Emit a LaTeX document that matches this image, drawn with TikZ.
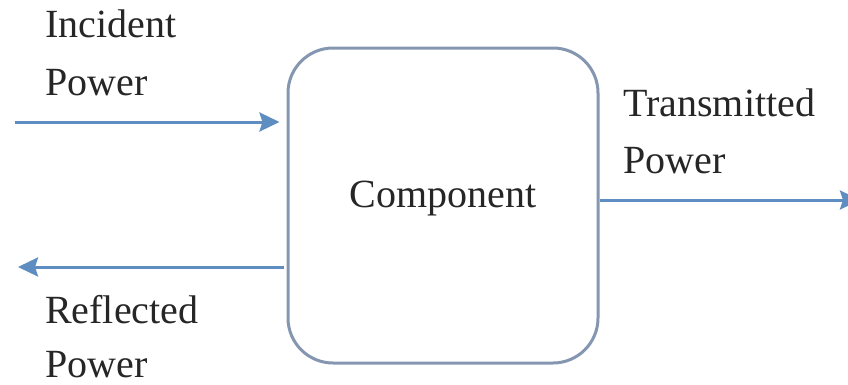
\documentclass[tikz,border=0pt]{standalone}
\usepackage{fontspec}
\setmainfont{Liberation Serif}
\newfontfamily\labelfont{Liberation Serif}
\usetikzlibrary{arrows.meta}
\definecolor{flowblue}{HTML}{5E8DC2}
\definecolor{boxgray}{HTML}{8496B0}
\begin{document}
\begin{tikzpicture}[x=1pt,y=1pt,
  flow/.style={draw=flowblue,line width=3pt,-{Stealth[length=20pt,width=19pt,inset=3pt]}},
  lbl/.style={anchor=base west,inner sep=0pt,font=\labelfont\fontsize{40}{48}\selectfont,text=black!85},
  compbox/.style={draw=boxgray,line width=3pt,rounded corners=45pt,
    minimum width=310pt,minimum height=315pt,inner sep=0pt,
    font=\labelfont\fontsize{40}{48}\selectfont,text=black!85,text height=27pt,text depth=24pt}]
\useasboundingbox (0,0) rectangle (848,384);
\clip (0,0) rectangle (848,384);

% the component block
\node[compbox] (comp) at (443,178.5) {Component};

% free ends of the three power flows
\coordinate (inS) at (15,262);
\coordinate (refE) at (18,117);
\coordinate (trE) at (860,184);

% incident, reflected and transmitted power
\draw[flow,shorten >=7pt] (inS) -- (inS -| comp.west);
\draw[flow,shorten <=3pt] (refE -| comp.west) -- (refE);
\draw[flow] (trE -| comp.east) -- (trE);

% labels
\node[lbl] (inc1) at (45,347) {Incident};
\node[lbl] (inc2) at (45,289) {Power};
\node[lbl] (ref1) at (45,61) {Reflected};
\node[lbl] (ref2) at (45,7) {Power};
\node[lbl] (tr1) at (623,268) {Transmitted};
\node[lbl] (tr2) at (623,211) {Power};
\end{tikzpicture}
\end{document}
